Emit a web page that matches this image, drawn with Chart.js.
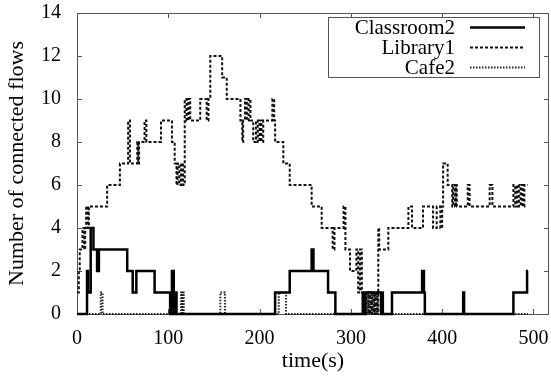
<!DOCTYPE html>
<html>
<head>
<meta charset="utf-8">
<script src="https://cdn.jsdelivr.net/npm/chart.js@4.4.1/dist/chart.umd.min.js"></script>
<style>
  html, body { margin: 0; padding: 0; background: #fff; }
</style>
</head>
<body>
<canvas id="flowsChart" width="551" height="378"></canvas>
<script>
// step change times (s) and new number of flows at that time
var classroomTimes = [0, 11, 12, 15, 18, 22, 24, 55, 61, 65, 85, 102, 104, 106, 107, 109, 217, 233, 257, 259, 275, 283, 313, 315, 316, 333, 334, 335, 345, 378, 380, 381, 423, 424, 478, 493, 494];
var classroomFlows = [0, 2, 1, 4, 3, 2, 3, 2, 1, 2, 1, 0, 2, 0, 1, 0, 1, 2, 3, 2, 1, 0, 1, 0, 1, 0, 1, 0, 1, 2, 1, 0, 1, 0, 1, 2, 2];

var libraryTimes = [0, 2, 3, 6, 8, 9, 10, 12, 13, 33, 47, 56, 58, 66, 67, 68, 74, 76, 92, 104, 107, 109, 110, 112, 114, 116, 118, 120, 122, 124, 135, 142, 144, 146, 159, 164, 179, 181, 182, 184, 186, 188, 190, 193, 196, 198, 200, 202, 204, 214, 216, 217, 226, 233, 257, 268, 280, 282, 292, 294, 299, 306, 308, 310, 312, 317, 319, 321, 323, 325, 327, 329, 330, 331, 341, 363, 367, 379, 390, 394, 398, 400, 401, 406, 411, 412, 414, 415, 416, 428, 430, 452, 455, 478, 480, 482, 484, 486, 488, 490, 494];
var libraryFlows = [1, 2, 3, 4, 3, 4, 5, 4, 5, 6, 7, 9, 7, 8, 7, 8, 9, 8, 9, 8, 7, 6, 7, 6, 7, 6, 10, 9, 10, 9, 10, 9, 10, 12, 11, 10, 9, 8, 9, 10, 9, 10, 9, 8, 9, 8, 9, 8, 9, 10, 9, 8, 7, 6, 5, 4, 3, 4, 5, 3, 2, 3, 1, 3, 1, 0, 1, 0, 1, 0, 1, 0, 4, 3, 4, 5, 4, 5, 4, 5, 4, 5, 7, 6, 5, 6, 5, 6, 5, 6, 5, 6, 5, 6, 5, 6, 5, 6, 5, 6, 6];

var cafeTimes = [0, 26, 28, 114, 115, 116, 117, 157, 162, 221, 229, 319, 320, 322, 323, 325, 326, 328, 329, 494];
var cafeFlows = [0, 1, 0, 1, 0, 1, 0, 1, 0, 1, 0, 1, 0, 1, 0, 1, 0, 1, 0, 0];

var seriesNames = ['Classroom2', 'Library1', 'Cafe2'];

function toPoints(times, flows) {
    var pts = [];
    for (var i = 0; i < times.length; i++) {
        pts.push({x: times[i], y: flows[i]});
    }
    return pts;
}

// gnuplot style frame with inward ticks on all four sides
var framePlugin = {
    id: 'frame',
    beforeDatasetsDraw: function(chart) {
        var ctx = chart.ctx;
        var a = chart.chartArea;
        var xs = chart.scales.x, ys = chart.scales.y;
        ctx.save();
        ctx.strokeStyle = '#555';
        ctx.lineWidth = 1;
        ctx.strokeRect(Math.round(a.left) + 0.5, Math.round(a.top) + 0.5, Math.round(a.right - a.left) - 1, Math.round(a.bottom - a.top));
        ctx.beginPath();
        xs.ticks.forEach(function(t) {
            var px = Math.round(xs.getPixelForValue(t.value)) + 0.5;
            ctx.moveTo(px, a.bottom); ctx.lineTo(px, a.bottom - 5);
            ctx.moveTo(px, a.top); ctx.lineTo(px, a.top + 5);
        });
        ys.ticks.forEach(function(t) {
            var py = Math.round(ys.getPixelForValue(t.value)) + 0.5;
            ctx.moveTo(a.left, py); ctx.lineTo(a.left + 5, py);
            ctx.moveTo(a.right, py); ctx.lineTo(a.right - 5, py);
        });
        ctx.stroke();
        ctx.restore();
    }
};

// key box in the top right corner, text right aligned, sample on the right
var keyPlugin = {
    id: 'keyBox',
    afterDraw: function(chart) {
        var ctx = chart.ctx;
        ctx.save();
        ctx.strokeStyle = '#555';
        ctx.lineWidth = 1;
        ctx.strokeRect(328.5, 17.5, 211, 60);
        ctx.font = '21px "Liberation Serif"';
        ctx.textAlign = 'right';
        ctx.textBaseline = 'middle';
        ctx.fillStyle = '#000';
        chart.data.datasets.forEach(function(ds, i) {
            var y = 27.5 + i * 20;
            ctx.fillText(ds.label, 455, y + 1);
            ctx.setLineDash(ds.borderDash || []);
            ctx.lineWidth = ds.borderWidth;
            ctx.strokeStyle = ds.borderColor;
            ctx.beginPath();
            ctx.moveTo(470, y);
            ctx.lineTo(525, y);
            ctx.stroke();
        });
        ctx.restore();
    }
};

var ctx = document.getElementById('flowsChart');
var flowsChart = new Chart(ctx, {
    type: 'line',
    data: {
        datasets: [
        {
            label: seriesNames[0],
            data: toPoints(classroomTimes, classroomFlows),
            borderColor: '#000',
            borderWidth: 2.5,
            stepped: true,
            pointRadius: 0,
            clip: false
        },
        {
            label: seriesNames[1],
            data: toPoints(libraryTimes, libraryFlows),
            borderColor: '#111',
            borderWidth: 2,
            borderDash: [3, 2],
            stepped: true,
            pointRadius: 0,
            clip: false
        },
        {
            label: seriesNames[2],
            data: toPoints(cafeTimes, cafeFlows),
            borderColor: '#222',
            borderWidth: 2,
            borderDash: [1.5, 1.5],
            stepped: true,
            pointRadius: 0,
            clip: false
        }
        ]
    },
    options: {
        responsive: false,
        animation: false,
        devicePixelRatio: 1,
        layout: { padding: { left: 0, right: 2, top: 13, bottom: 0 } },
        plugins: {
            legend: { display: false },
            tooltip: { enabled: false }
        },
        scales: {
            x: {
                type: 'linear',
                min: 0,
                max: 517,
                grid: { display: false },
                border: { display: false },
                ticks: {
                    stepSize: 100,
                    includeBounds: false,
                    maxRotation: 0,
                    padding: 5,
                    color: '#000',
                    font: { family: 'Liberation Serif', size: 20 }
                },
                title: {
                    display: true,
                    text: 'time(s)',
                    color: '#000',
                    padding: { top: 0, bottom: 4 },
                    font: { family: 'Liberation Serif', size: 22 }
                },
                afterFit: function(scale) {
                    scale.height = 64;
                    scale.paddingLeft = 0;
                    scale.paddingRight = 0;
                }
            },
            y: {
                min: 0,
                max: 14,
                grid: { display: false },
                border: { display: false },
                ticks: {
                    stepSize: 2,
                    padding: 8,
                    color: '#000',
                    font: { family: 'Liberation Serif', size: 20 }
                },
                title: {
                    display: true,
                    text: 'Number of connected flows',
                    color: '#000',
                    padding: { top: 4, bottom: 0 },
                    font: { family: 'Liberation Serif', size: 22 }
                },
                afterFit: function(scale) {
                    scale.width = 77;
                    scale.paddingTop = 0;
                    scale.paddingBottom = 0;
                }
            }
        }
    },
    plugins: [framePlugin, keyPlugin]
});
</script>
</body>
</html>
